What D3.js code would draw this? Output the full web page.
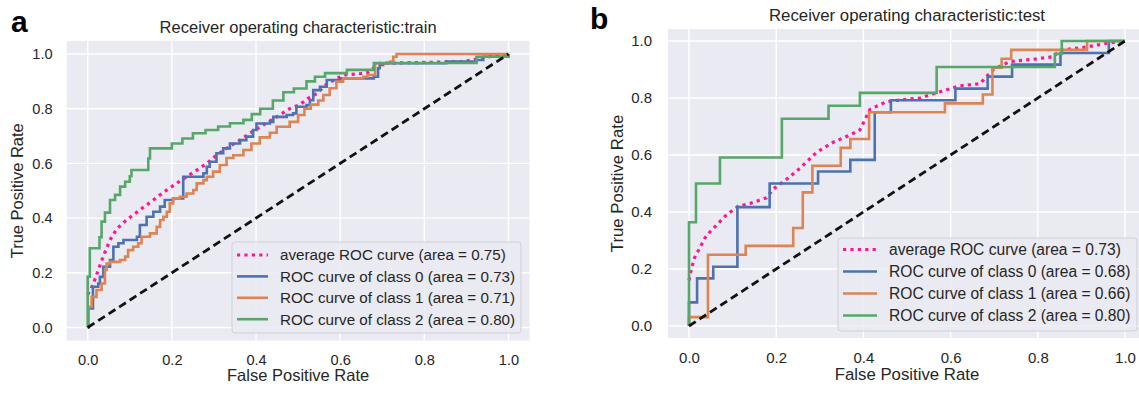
<!DOCTYPE html>
<html><head><meta charset="utf-8">
<script src="https://cdn.jsdelivr.net/npm/d3@7/dist/d3.min.js"></script>
<style>body{margin:0;background:#fff}text{font-family:"Liberation Sans",Arial,sans-serif;fill:#262626}</style>
</head><body>
<svg id="c" width="1139" height="393"></svg>
<script>
const tickValues = [0, 0.2, 0.4, 0.6, 0.8, 1.0];
const tickLabels = ["0.0", "0.2", "0.4", "0.6", "0.8", "1.0"];
const seriesNames = ["average", "class 0", "class 1", "class 2"];
const trainLegend = ["average ROC curve (area = 0.75)", "ROC curve of class 0 (area = 0.73)", "ROC curve of class 1 (area = 0.71)", "ROC curve of class 2 (area = 0.80)"];
const testLegend = ["average ROC curve (area = 0.73)", "ROC curve of class 0 (area = 0.68)", "ROC curve of class 1 (area = 0.66)", "ROC curve of class 2 (area = 0.80)"];

const trainAvg = [[0,0.12],[0.0135,0.16],[0.025,0.21],[0.037,0.26],[0.053,0.32],[0.069,0.36],[0.092,0.393],[0.124,0.43],[0.156,0.466],[0.188,0.503],[0.219,0.535],[0.251,0.567],[0.283,0.6],[0.306,0.63],[0.33,0.655],[0.362,0.685],[0.385,0.71],[0.417,0.74],[0.449,0.77],[0.48,0.8],[0.504,0.815],[0.524,0.838],[0.544,0.855],[0.568,0.89],[0.607,0.923],[0.663,0.93],[0.694,0.966],[0.892,0.972],[0.955,0.99],[1,1]];
const trainC0 = [[0,0],[0.002,0.07],[0.0125,0.149],[0.025,0.161],[0.029,0.185],[0.037,0.222],[0.053,0.247],[0.061,0.295],[0.073,0.308],[0.085,0.32],[0.117,0.332],[0.124,0.375],[0.14,0.405],[0.156,0.423],[0.172,0.442],[0.183,0.466],[0.203,0.472],[0.227,0.551],[0.275,0.564],[0.283,0.588],[0.29,0.606],[0.306,0.637],[0.322,0.655],[0.338,0.673],[0.362,0.685],[0.377,0.698],[0.393,0.722],[0.401,0.746],[0.433,0.752],[0.441,0.77],[0.473,0.777],[0.488,0.783],[0.496,0.807],[0.52,0.813],[0.528,0.831],[0.536,0.868],[0.552,0.88],[0.568,0.905],[0.6,0.911],[0.68,0.917],[0.69,0.948],[0.694,0.96],[0.702,0.966],[0.852,0.972],[0.924,0.978],[0.94,0.99],[1,1]];
const trainC1 = [[0,0],[0.002,0.076],[0.0094,0.112],[0.021,0.137],[0.033,0.161],[0.041,0.21],[0.045,0.234],[0.053,0.24],[0.077,0.247],[0.089,0.259],[0.096,0.283],[0.108,0.295],[0.12,0.308],[0.128,0.332],[0.148,0.344],[0.164,0.368],[0.172,0.393],[0.18,0.405],[0.188,0.423],[0.195,0.454],[0.203,0.472],[0.219,0.478],[0.235,0.49],[0.251,0.503],[0.259,0.527],[0.275,0.539],[0.283,0.551],[0.298,0.57],[0.314,0.594],[0.33,0.62],[0.346,0.63],[0.37,0.649],[0.389,0.673],[0.409,0.695],[0.433,0.712],[0.449,0.734],[0.48,0.752],[0.5,0.777],[0.515,0.8],[0.53,0.815],[0.548,0.83],[0.56,0.85],[0.575,0.875],[0.591,0.899],[0.607,0.911],[0.655,0.917],[0.665,0.923],[0.683,0.966],[0.718,0.972],[0.726,0.99],[0.734,1],[1,1]];
const trainC2 = [[0,0],[0,0.186],[0.005,0.29],[0.028,0.33],[0.033,0.387],[0.041,0.42],[0.053,0.466],[0.065,0.485],[0.077,0.515],[0.089,0.533],[0.1,0.553],[0.104,0.576],[0.144,0.618],[0.148,0.655],[0.2,0.673],[0.225,0.691],[0.25,0.71],[0.28,0.722],[0.31,0.735],[0.338,0.747],[0.37,0.759],[0.39,0.78],[0.41,0.8],[0.44,0.83],[0.465,0.86],[0.49,0.874],[0.52,0.9],[0.54,0.917],[0.564,0.93],[0.616,0.942],[0.68,0.967],[0.924,0.99],[1,1]];

const testAvg = [[0,0.16],[0.0054,0.2],[0.013,0.24],[0.025,0.275],[0.037,0.31],[0.048,0.33],[0.067,0.36],[0.086,0.39],[0.113,0.42],[0.14,0.43],[0.178,0.45],[0.193,0.48],[0.22,0.51],[0.254,0.553],[0.293,0.61],[0.331,0.645],[0.369,0.67],[0.392,0.688],[0.415,0.76],[0.453,0.787],[0.484,0.793],[0.53,0.8],[0.576,0.822],[0.622,0.843],[0.667,0.85],[0.698,0.9],[0.736,0.928],[0.79,0.936],[0.836,0.945],[0.851,0.968],[0.912,0.979],[0.958,0.992],[1,1]];
const testC0 = [[0,0],[0,0.083],[0.0185,0.167],[0.0556,0.208],[0.111,0.417],[0.185,0.5],[0.296,0.542],[0.37,0.583],[0.426,0.75],[0.463,0.792],[0.611,0.833],[0.685,0.875],[0.741,0.917],[0.852,0.958],[0.963,1],[1,1]];
const testC1 = [[0,0],[0,0.031],[0.0435,0.25],[0.13,0.281],[0.239,0.344],[0.261,0.469],[0.283,0.5625],[0.348,0.625],[0.37,0.656],[0.413,0.75],[0.587,0.781],[0.674,0.8125],[0.696,0.906],[0.717,0.9375],[0.739,0.969],[0.913,1],[1,1]];
const testC2 = [[0,0],[0,0.364],[0.016,0.5],[0.071,0.591],[0.213,0.727],[0.32,0.773],[0.392,0.818],[0.568,0.909],[0.839,0.955],[0.855,1],[1,1]];
const diagonal = [[0,0],[1,1]];

const colors = {avg:"#FF1493", c0:"#4C72B0", c1:"#DD8452", c2:"#55A868"};
const svg = d3.select("#c");
const LW = 2.6, DOTW = 3.2, DOTS = "3.2,4.2";

function panel(cfg){
  const x = d3.scaleLinear().domain([0,1]).range([cfg.x0, cfg.x1]);
  const y = d3.scaleLinear().domain([0,1]).range([cfg.y0, cfg.y1]);
  const g = svg.append("g");
  const bl = x(-cfg.padX), br = x(1+cfg.padX), bt = y(1+cfg.padY), bb = y(-cfg.padY);
  g.append("rect").attr("x",bl).attr("y",bt).attr("width",br-bl).attr("height",bb-bt).attr("fill","#EAEAF2");
  g.selectAll(".gx").data(tickValues).enter().append("line").attr("x1",d=>x(d)).attr("x2",d=>x(d)).attr("y1",bt).attr("y2",bb).attr("stroke","#fff").attr("stroke-width",1.4);
  g.selectAll(".gy").data(tickValues).enter().append("line").attr("y1",d=>y(d)).attr("y2",d=>y(d)).attr("x1",bl).attr("x2",br).attr("stroke","#fff").attr("stroke-width",1.4);
  const xAxis = d3.axisBottom(x).tickValues(tickValues).tickFormat((d,i)=>tickLabels[i]).tickSize(0).tickPadding(cfg.xPad);
  const yAxis = d3.axisLeft(y).tickValues(tickValues).tickFormat((d,i)=>tickLabels[i]).tickSize(0).tickPadding(cfg.yPad);
  const gx = g.append("g").attr("transform",`translate(0,${bb})`).call(xAxis);
  const gy = g.append("g").attr("transform",`translate(${bl},0)`).call(yAxis);
  [gx,gy].forEach(a=>{a.select(".domain").remove(); a.selectAll("text").attr("font-size",cfg.tick).attr("fill","#262626").style("font-family",'"Liberation Sans",Arial,sans-serif');});

  const step = d3.line().x(d=>x(d[0])).y(d=>y(d[1])).curve(d3.curveStepAfter);
  const lin = d3.line().x(d=>x(d[0])).y(d=>y(d[1]));
  g.append("path").attr("d",lin(cfg.avg)).attr("fill","none").attr("stroke",colors.avg).attr("stroke-width",DOTW).attr("stroke-dasharray",DOTS);
  g.append("path").attr("d",step(cfg.c0)).attr("fill","none").attr("stroke",colors.c0).attr("stroke-width",LW);
  g.append("path").attr("d",step(cfg.c1)).attr("fill","none").attr("stroke",colors.c1).attr("stroke-width",LW);
  g.append("path").attr("d",step(cfg.c2)).attr("fill","none").attr("stroke",colors.c2).attr("stroke-width",LW);
  g.append("path").attr("d",lin(diagonal)).attr("fill","none").attr("stroke","#111").attr("stroke-width",2.8).attr("stroke-dasharray","8,4.5");

  const L = cfg.leg;
  g.append("rect").attr("x",L.x).attr("y",L.y).attr("width",L.w).attr("height",L.h).attr("rx",3)
    .attr("fill","#EAEAF2").attr("fill-opacity",0.85).attr("stroke","#cfcfd6").attr("stroke-width",1);
  const cols = [colors.avg, colors.c0, colors.c1, colors.c2];
  cfg.legend.forEach((t,i)=>{
    const yy = L.y + L.first + i*L.dy;
    const ln = g.append("line").attr("x1",L.x+L.hx0).attr("x2",L.x+L.hx1).attr("y1",yy).attr("y2",yy).attr("stroke",cols[i]);
    if(i===0) ln.attr("stroke-width",DOTW).attr("stroke-dasharray",DOTS); else ln.attr("stroke-width",LW);
    g.append("text").attr("x",L.x+L.tx).attr("y",yy).attr("dy","0.36em").attr("font-size",L.fs).text(t);
  });

  g.append("text").attr("x",(bl+br)/2).attr("y",cfg.titleY).attr("text-anchor","middle").attr("font-size",cfg.titleFs).text(cfg.title);
  g.append("text").attr("x",(x(0)+x(1))/2).attr("y",cfg.xlabY).attr("text-anchor","middle").attr("font-size",cfg.labFs).text("False Positive Rate");
  g.append("text").attr("transform",`translate(${cfg.ylabX},${(y(0)+y(1))/2}) rotate(-90)`).attr("text-anchor","middle").attr("font-size",cfg.labFs).text("True Positive Rate");
  g.append("text").attr("x",cfg.letterX).attr("y",cfg.letterY).attr("font-size",30).attr("font-weight","bold").style("fill","#000").text(cfg.letter);
}

panel({x0:87.7,x1:508.5,y0:327.5,y1:54,padX:0.05,padY:0.048,xPad:14,yPad:14,tick:14.6,
  avg:trainAvg,c0:trainC0,c1:trainC1,c2:trainC2,legend:trainLegend,
  leg:{x:232,y:242,w:289,h:91,first:13,dy:21.4,hx0:5,hx1:36,tx:48,fs:15.2},
  title:"Receiver operating characteristic:train",titleY:33,titleFs:16.5,xlabY:381,labFs:16.5,ylabX:23,letter:"a",letterX:11,letterY:32});
panel({x0:689,x1:1125,y0:326,y1:41,padX:0.048,padY:0.042,xPad:14,yPad:16,tick:15,
  avg:testAvg,c0:testC0,c1:testC1,c2:testC2,legend:testLegend,
  leg:{x:838,y:238,w:299,h:93,first:11.5,dy:22,hx0:5,hx1:39,tx:51,fs:15.6},
  title:"Receiver operating characteristic:test",titleY:21,titleFs:16.8,xlabY:380,labFs:16.8,ylabX:623,letter:"b",letterX:590,letterY:29});
</script>
</body></html>
